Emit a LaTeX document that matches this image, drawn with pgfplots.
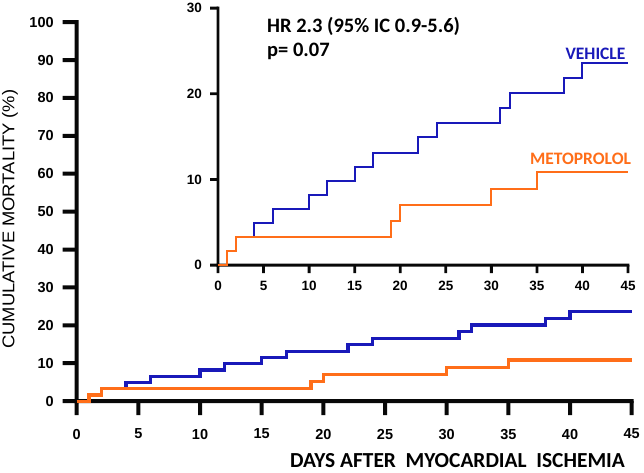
\documentclass[border=0pt]{standalone}
\usepackage{pgfplots}
\pgfplotsset{compat=1.18}
\usepackage{fontspec}
\setmainfont{Liberation Sans}
\newfontfamily\calibri{Carlito}
\definecolor{vehblue}{RGB}{25,25,185}
\definecolor{metorange}{RGB}{255,110,25}
\definecolor{ink}{RGB}{8,8,8}

\pgfplotstableread{
x y
0 0
1 1.64
2 3.28
4 4.92
6 6.56
10 8.2
12 9.84
15 11.48
17 13.11
22 14.9
24 16.55
31 18.3
32 20.1
38 21.8
40 23.6
45 23.6
}\vehicle

\pgfplotstableread{
x y
0 0
1 1.64
2 3.28
19 5.1
20 7.0
30 8.86
35 10.86
45 10.86
}\metoprolol

\begin{document}
\begin{tikzpicture}
\path (0pt,0pt) rectangle (644pt,471pt);

% main axis (box enlarged so that the axis frame and ticks lie inside it)
\begin{axis}[
  at={(58.2pt,52.05pt)}, anchor=south west,
  scale only axis, width=577.2pt, height=400.2pt,
  xmin=-1.5, xmax=45.3, ymin=-5, ymax=100.6,
  axis lines=left,
  axis line style={draw=none},
  xtick={0,5,...,45}, ytick={0,10,...,100},
  major tick length=0pt,
  tick style={draw=none},
  /pgf/number format/assume math mode=true,
  ticklabel style={font=\fontsize{14.5}{14.5}\selectfont\bfseries},
  xticklabel style={anchor=center, yshift=-14pt},
  yticklabel style={anchor=east, xshift=-1pt},
  clip=false,
]
\addplot[fill=ink, draw=none, forget plot] coordinates {(-0.162,-0.53) (45.162,-0.53) (45.162,0.53) (-0.162,0.53) (-0.162,-0.53)};
\addplot[fill=ink, draw=none, forget plot] coordinates {(-0.162,-0.53) (0.162,-0.53) (0.162,100.53) (-0.162,100.53) (-0.162,-0.53)};
\pgfplotsinvokeforeach{0,5,...,45}{\addplot[fill=ink, draw=none, forget plot] coordinates {(#1-0.162,0) (#1+0.162,0) (#1+0.162,-3.69) (#1-0.162,-3.69) (#1-0.162,0)};}
\pgfplotsinvokeforeach{0,10,...,100}{\addplot[fill=ink, draw=none, forget plot] coordinates {(0,#1-0.53) (0,#1+0.53) (-1.135,#1+0.53) (-1.135,#1-0.53) (0,#1-0.53)};}
\addplot[const plot, line width=3.2pt, vehblue] table[x=x,y=y] {\vehicle};
\addplot[const plot, line width=3.2pt, metorange] table[x=x,y=y] {\metoprolol};
\end{axis}

% inset axis (box enlarged likewise)
\begin{axis}[
  at={(207.07pt,195.86pt)}, anchor=south west,
  scale only axis, width=423.7pt, height=270.7pt,
  xmin=-1.2, xmax=45.3, ymin=-1.3, ymax=30.3,
  axis lines=left,
  axis line style={draw=none},
  xtick={0,5,...,45}, ytick={0,10,20,30},
  major tick length=0pt,
  tick style={draw=none},
  /pgf/number format/assume math mode=true,
  ticklabel style={font=\fontsize{13.5}{13.5}\selectfont\bfseries},
  xticklabel style={anchor=center, yshift=-10pt},
  yticklabel style={anchor=east, xshift=-1.7pt},
  clip=false,
]
\addplot[fill=ink, draw=none, forget plot] coordinates {(-0.154,-0.163) (45.154,-0.163) (45.154,0.163) (-0.154,0.163) (-0.154,-0.163)};
\addplot[fill=ink, draw=none, forget plot] coordinates {(-0.154,-0.163) (0.154,-0.163) (0.154,30.163) (-0.154,30.163) (-0.154,-0.163)};
\pgfplotsinvokeforeach{0,5,...,45}{\addplot[fill=ink, draw=none, forget plot] coordinates {(#1-0.154,0) (#1+0.154,0) (#1+0.154,-0.934) (#1-0.154,-0.934) (#1-0.154,0)};}
\pgfplotsinvokeforeach{0,10,20,30}{\addplot[fill=ink, draw=none, forget plot] coordinates {(0,#1-0.163) (0,#1+0.163) (-0.878,#1+0.163) (-0.878,#1-0.163) (0,#1-0.163)};}
\addplot[const plot, line width=2pt, vehblue] table[x=x,y=y] {\vehicle};
\addplot[const plot, line width=2pt, metorange] table[x=x,y=y] {\metoprolol};
\end{axis}

% texts
\node[anchor=west, inner sep=0pt, font=\calibri\bfseries\fontsize{20.5}{20.5}\selectfont] at (267pt,446pt) {HR 2.3 (95\% IC 0.9-5.6)};
\node[anchor=west, inner sep=0pt, font=\calibri\bfseries\fontsize{20.5}{20.5}\selectfont] at (267pt,421pt) {p= 0.07};
\node[inner sep=0pt, text=vehblue, font=\calibri\bfseries\fontsize{17.5}{17.5}\selectfont] at (595.5pt,418.3pt) {VEHICLE};
\node[inner sep=0pt, text=metorange, font=\calibri\bfseries\fontsize{17.5}{17.5}\selectfont] at (580.5pt,313pt) {METOPROLOL};
\node[inner sep=0pt, rotate=90] at (10pt,253pt) {\scalebox{1.08}[1]{\fontsize{17}{17}\selectfont CUMULATIVE MORTALITY (\%)}};
\node[inner sep=0pt, font=\calibri\bfseries\fontsize{21.4}{21.4}\selectfont] at (457.5pt,11.5pt) {DAYS AFTER\ \ MYOCARDIAL\ \ ISCHEMIA};
\end{tikzpicture}
\end{document}
